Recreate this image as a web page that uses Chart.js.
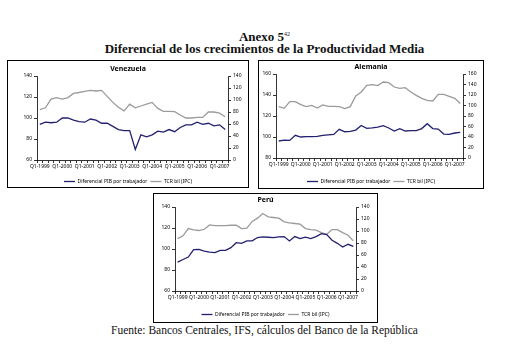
<!DOCTYPE html>
<html>
<head>
<meta charset="utf-8">
<script src="https://cdn.jsdelivr.net/npm/chart.js@4.4.0/dist/chart.umd.min.js"></script>
<style>
    body { margin: 0; width: 529px; height: 348px; background: #fff; position: relative; overflow: hidden; font-family: 'Liberation Serif', 'DejaVu Serif', serif; color: #111; }
    .titulo { position: absolute; left: 0; width: 529px; text-align: center; font-weight: bold; font-size: 13px; line-height: 14px; }
    .titulo sup { font-size: 6px; font-weight: normal; vertical-align: 5px; }
    .caja { position: absolute; border: 1px solid #000; background: #fff; }
    .caja canvas { display: block; }
    .fuente { position: absolute; left: 0; width: 529px; top: 324px; text-align: center; font-size: 11.5px; }
</style>
</head>
<body>

<div class="titulo" style="top:27px">Anexo 5<sup>42</sup></div>
<div class="titulo" style="top:42px">Diferencial de los crecimientos de la Productividad Media</div>

<div class="caja" style="left:7px; top:60px;"><canvas id="venezuela" width="240" height="126"></canvas></div>
<div class="caja" style="left:258px; top:60px;"><canvas id="alemania" width="224" height="127"></canvas></div>
<div class="caja" style="left:153px; top:193px;"><canvas id="peru" width="223" height="128"></canvas></div>

<div class="fuente">Fuente: Bancos Centrales, IFS, cálculos del Banco de la República</div>

<script>
// trimestres Q1-1999 ... Q2-2007
var trimestres = [
    'Q1-1999', 'Q2-1999', 'Q3-1999', 'Q4-1999',
    'Q1-2000', 'Q2-2000', 'Q3-2000', 'Q4-2000',
    'Q1-2001', 'Q2-2001', 'Q3-2001', 'Q4-2001',
    'Q1-2002', 'Q2-2002', 'Q3-2002', 'Q4-2002',
    'Q1-2003', 'Q2-2003', 'Q3-2003', 'Q4-2003',
    'Q1-2004', 'Q2-2004', 'Q3-2004', 'Q4-2004',
    'Q1-2005', 'Q2-2005', 'Q3-2005', 'Q4-2005',
    'Q1-2006', 'Q2-2006', 'Q3-2006', 'Q4-2006',
    'Q1-2007', 'Q2-2007'
];

// Venezuela
var venDiferencial = [94, 96, 95.5, 96, 100, 100, 98, 96.5, 96, 99, 98, 95, 95, 92, 89, 88, 88,
    70, 84, 82, 84, 87.5, 86.5, 89, 87, 91, 93.4, 93.4, 96, 94, 95, 92.5, 93.5, 89];
var venTcr = [84, 87, 101.5, 104, 101.5, 104, 111, 112.5, 114.5, 116, 115, 116, 106, 96, 88, 82, 93,
    87, 90, 93, 96, 86, 81, 81, 80.5, 75, 70, 70, 71, 71, 80, 80, 78, 72];
var venEjeIzq = [60, 80, 100, 120, 140];
var venEjeDer = [0, 20, 40, 60, 80, 100, 120, 140];

// Alemania
var aleDiferencial = [96.2, 97, 96.8, 101.6, 100, 100.3, 100.3, 100.6, 101.6, 102, 102.5, 107.3,
    105, 105.4, 106.6, 111, 108.3, 108.6, 109.5, 110.8, 108.6, 105.7, 108, 105.7, 106, 106, 108,
    112.7, 108, 107.6, 102.8, 102.5, 103.8, 104.4];
var aleTcr = [97.8, 94.6, 107.3, 107.3, 101.6, 97.8, 100.3, 95.2, 101, 98.4, 98.4, 97.8, 94, 97.8,
    118, 125.7, 138.4, 139.7, 137.8, 144.8, 143.5, 135.2, 132.6, 133.9, 125.7, 119.4, 113.7, 109.8,
    108.6, 121.3, 121.3, 117.5, 113.7, 104];
var aleEjeIzq = [80, 100, 120, 140, 160];
var aleEjeDer = [0, 20, 40, 60, 80, 100, 120, 140, 160];

// Perú
var peruDiferencial = [87.5, 90, 92.3, 99.4, 99.7, 98, 97.1, 96.5, 98.7, 98.7, 101.3, 106, 105.4,
    107.7, 107.7, 110.9, 111.5, 111.2, 110.9, 111.5, 111.8, 107.7, 111.8, 109.9, 111.2, 109.9, 111.8,
    114.7, 113.7, 108.3, 105.4, 101.9, 104.5, 102.6];
var peruTcr = [87.3, 91.9, 104.1, 101.9, 100.8, 102.9, 110.2, 109.1, 109.1, 109.1, 109.6, 109.6,
    104.1, 104.7, 115.9, 121.4, 129.2, 123.7, 122.5, 121.4, 115.3, 113.6, 112.5, 111.3, 104.1, 102.4,
    101.3, 97.4, 94.5, 102.4, 102.4, 97.4, 93, 83.5];
var peruEjeIzq = [60, 80, 100, 120, 140];
var peruEjeDer = [0, 20, 40, 60, 80, 100, 120, 140];

Chart.defaults.font.family = "'Noto Sans', 'Liberation Sans', sans-serif";
Chart.defaults.color = '#000';

// caja: bordes del area del grafico dentro del canvas y alto del eje x
function grafico(id, titulo, azul, gris, ejeIzq, ejeDer, caja) {
    var canvas = document.getElementById(id);
    var ctx = canvas.getContext('2d');
    var ancho = canvas.width;

    var ejeY = function (valores, lado) {
        return {
            position: lado,
            min: valores[0],
            max: valores[valores.length - 1],
            afterBuildTicks: function (scale) {
                scale.ticks = valores.map(function (v) { return { value: v }; });
            },
            afterFit: function (scale) {
                scale.width = lado == 'left' ? caja.izq : ancho - caja.der;
            },
            grid: { drawOnChartArea: false, tickLength: 3, color: '#000', lineWidth: 0.8 },
            border: { color: '#000', width: 0.8 },
            ticks: { font: { size: 5 }, padding: 2, color: '#000' }
        };
    };

    return new Chart(ctx, {
        type: 'line',
        data: {
            labels: trimestres,
            datasets: [{
                label: 'Diferencial PIB por trabajador',
                data: azul,
                yAxisID: 'y',
                borderColor: '#222070',
                borderWidth: 1.3,
                pointRadius: 0,
                tension: 0
            }, {
                label: 'TCR bil (IPC)',
                data: gris,
                yAxisID: 'y1',
                borderColor: '#9b9b9b',
                borderWidth: 1.3,
                pointRadius: 0,
                tension: 0
            }]
        },
        options: {
            responsive: false,
            animation: false,
            // el pie negativo recorta el margen fijo que la leyenda deja debajo
            layout: { padding: { left: 0, right: 0, top: 0, bottom: caja.pie } },
            plugins: {
                title: {
                    display: true,
                    text: titulo,
                    font: { size: 7, weight: 'bold' },
                    color: '#000',
                    padding: { top: caja.arriba - 11, bottom: 2.6 }
                },
                legend: {
                    position: 'bottom',
                    labels: {
                        usePointStyle: true,
                        pointStyle: 'line',
                        pointStyleWidth: 11,
                        font: { size: 5 },
                        color: '#000',
                        padding: 3
                    }
                },
                tooltip: { enabled: false }
            },
            scales: {
                x: {
                    offset: true,
                    afterFit: function (scale) { scale.height = caja.ejeX; },
                    grid: { offset: true, drawOnChartArea: false, tickLength: 3, color: '#000', lineWidth: 0.8 },
                    border: { color: '#000', width: 0.8 },
                    ticks: {
                        autoSkip: false,
                        maxRotation: 0,
                        minRotation: 0,
                        padding: 1,
                        font: { size: 5 },
                        color: '#000',
                        callback: function (v, i) {
                            return i % 4 == 0 ? this.getLabelForValue(v) : '';
                        }
                    }
                },
                y: ejeY(ejeIzq, 'left'),
                y1: ejeY(ejeDer, 'right')
            }
        }
    });
}

grafico('venezuela', 'Venezuela', venDiferencial, venTcr, venEjeIzq, venEjeDer,
    { izq: 29, der: 220, arriba: 15, ejeX: 16, pie: -7 });
grafico('alemania', 'Alemania', aleDiferencial, aleTcr, aleEjeIzq, aleEjeDer,
    { izq: 17, der: 204, arriba: 13, ejeX: 18, pie: -6 });
grafico('peru', 'Perú', peruDiferencial, peruTcr, peruEjeIzq, peruEjeDer,
    { izq: 21, der: 202, arriba: 13, ejeX: 18, pie: -5 });
</script>
</body>
</html>
